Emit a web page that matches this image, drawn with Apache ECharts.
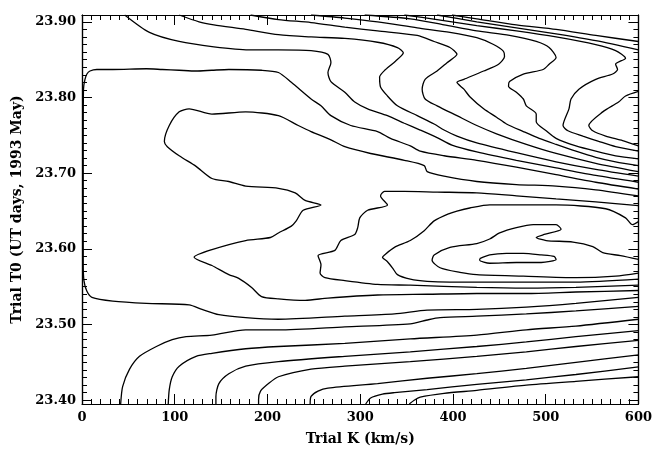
<!DOCTYPE html>
<html>
<head>
<meta charset="utf-8">
<script src="https://cdn.jsdelivr.net/npm/echarts@6/dist/echarts.min.js"></script>
<style>
html,body{margin:0;padding:0;background:#fff;}
#chart{width:655px;height:451px;}
</style>
</head>
<body>
<div id="chart"></div>
<script>
// Contour lines of the trial (K, T0) grid, each point is [K km/s, T0 days]
const r2 = [[398.9,23.909],[425.7,23.904],[468.4,23.896],[511.2,23.890],[554,23.882],[600,23.874]];
const r1 = [[382.9,23.909],[425.7,23.900],[468.4,23.892],[511.2,23.884],[554,23.875],[600,23.863]];
const s7 = [[600,23.808],[586.1,23.802],[578.6,23.794],[561.5,23.781],[546.5,23.763],[550.8,23.756],[564.7,23.749],[582.9,23.743],[600,23.736]];
const s6 = [[347.6,23.909],[382.9,23.903],[425.7,23.895],[468.4,23.888],[511.2,23.880],[554,23.870],[575.4,23.862],[586.1,23.852],[575.4,23.844],[577.5,23.837],[572.2,23.831],[554,23.824],[535.8,23.811],[527.3,23.798],[525.1,23.785],[518.7,23.763],[524,23.756],[540.1,23.749],[557.2,23.742],[575.4,23.735],[600,23.729]];
const s5 = [[304.8,23.909],[354,23.904],[390.4,23.896],[425.7,23.888],[461,23.882],[489.8,23.874],[503.7,23.866],[511.2,23.853],[503.7,23.844],[497.3,23.837],[475.9,23.831],[461,23.821],[459.9,23.815],[468.4,23.807],[475.9,23.798],[479.1,23.789],[489.8,23.778],[489.8,23.768],[500.5,23.756],[511.2,23.746],[532.6,23.736],[554,23.729],[575.4,23.723],[600,23.719]];
const s4 = [[247,23.909],[283.4,23.905],[318.7,23.900],[361.5,23.892],[396.8,23.886],[425.7,23.879],[443.8,23.870],[454.5,23.861],[455.6,23.854],[449.2,23.844],[433.1,23.835],[411.8,23.824],[404.3,23.820],[411.8,23.811],[418.2,23.801],[433.1,23.785],[447,23.774],[457.7,23.765],[475.9,23.755],[493,23.746],[511.2,23.738],[532.6,23.729],[554,23.721],[575.4,23.715],[600,23.710]];
const s3 = [[181.8,23.909],[211.8,23.903],[247,23.899],[283.4,23.893],[318.7,23.888],[361.5,23.882],[379.7,23.874],[396.8,23.866],[404.3,23.857],[393.6,23.846],[382.9,23.835],[370,23.824],[366.8,23.811],[370,23.798],[382.9,23.789],[404.3,23.776],[425.7,23.763],[447,23.752],[479.1,23.738],[511.2,23.726],[554,23.713],[600,23.702]];
const s2 = [[104.8,23.909],[126.2,23.900],[142.2,23.896],[176.5,23.890],[211.8,23.883],[247,23.880],[283.4,23.878],[318.7,23.873],[340.1,23.866],[346.5,23.859],[338,23.848],[327.3,23.837],[320.9,23.827],[321.9,23.814],[329.4,23.802],[340.1,23.789],[361.5,23.776],[379.7,23.765],[390.4,23.757],[404.3,23.749],[425.7,23.740],[468.4,23.727],[511.2,23.715],[554,23.705],[600,23.696]];
const s1 = [[46,23.909],[72.7,23.886],[104.8,23.874],[142.2,23.867],[179.7,23.863],[211.8,23.863],[247,23.862],[265.2,23.857],[268.4,23.846],[265.2,23.833],[268.4,23.821],[283.4,23.807],[294.1,23.794],[308,23.785],[329.4,23.776],[347.6,23.766],[364.7,23.757],[382.9,23.747],[398.9,23.737],[425.7,23.728],[468.4,23.717],[511.2,23.707],[554,23.697],[600,23.688]];
const outer = [[600,23.679],[554,23.688],[511.2,23.698],[468.4,23.708],[425.7,23.717],[390.4,23.723],[364.7,23.729],[354,23.736],[332.6,23.746],[318.7,23.755],[289.8,23.763],[268.4,23.776],[257.7,23.789],[247,23.798],[225.7,23.820],[211.8,23.833],[193.6,23.836],[158.3,23.837],[140.1,23.836],[123,23.835],[104.8,23.836],[86.6,23.837],[69.5,23.838],[33.2,23.837],[16,23.837],[8.6,23.835],[5.3,23.831],[3.2,23.824],[1.6,23.811],[1.3,23.733],[1.3,23.654],[1.3,23.582],[2.1,23.558],[5.3,23.544],[10.7,23.536],[33.2,23.531],[69.5,23.528],[115.5,23.526],[129.4,23.520],[147.6,23.513],[176.5,23.509],[211.8,23.507],[283.4,23.511],[336.9,23.514],[372.2,23.519],[425.7,23.520],[479.1,23.523],[532.6,23.528],[600,23.536]];
const inner1 = [[600,23.670],[554,23.678],[511.2,23.683],[468.4,23.685],[425.7,23.689],[390.4,23.696],[372.2,23.702],[369,23.710],[347.6,23.717],[311.2,23.726],[283.4,23.735],[268.4,23.744],[247,23.755],[233.2,23.763],[211.8,23.776],[176.5,23.781],[140.1,23.778],[115.5,23.785],[104.8,23.781],[94.1,23.763],[88.8,23.742],[92,23.735],[104.8,23.723],[123,23.709],[140.1,23.693],[158.3,23.689],[176.5,23.683],[211.8,23.680],[229.9,23.674],[240.6,23.664],[257.7,23.658],[238.5,23.651],[231,23.637],[225.7,23.630],[211.8,23.621],[203.2,23.615],[176.5,23.611],[140.1,23.599],[120.9,23.589],[140.1,23.578],[158.3,23.566],[169,23.561],[182.9,23.549],[193.6,23.537],[211.8,23.534],[240.6,23.532],[265.2,23.535],[318.7,23.539],[372.2,23.540],[425.7,23.541],[479.1,23.541],[532.6,23.543],[600,23.545]];
const inner2 = [[600,23.657],[554,23.662],[511.2,23.666],[468.4,23.670],[425.7,23.674],[382.9,23.675],[347.6,23.676],[326.2,23.676],[321.9,23.670],[329.4,23.658],[308,23.651],[299.5,23.641],[297.3,23.628],[294.1,23.619],[279.1,23.611],[272.7,23.598],[254.5,23.591],[257.7,23.579],[256.7,23.568],[262,23.562],[283.4,23.558],[318.7,23.553],[354,23.552],[425.7,23.549],[479.1,23.548],[532.6,23.549],[600,23.552]];
const inner3 = [[600,23.636],[593.6,23.632],[586.1,23.641],[564.7,23.653],[511.2,23.658],[439.6,23.658],[418.2,23.654],[404.3,23.650],[396.8,23.647],[379.7,23.637],[369,23.624],[354,23.611],[336.9,23.602],[326.2,23.592],[324,23.589],[329.4,23.583],[334.7,23.575],[340.1,23.566],[354,23.560],[372.2,23.557],[396.8,23.556],[425.7,23.556],[479.1,23.556],[532.6,23.556],[600,23.560]];
const inner4 = [[600,23.586],[580.7,23.591],[561.5,23.595],[550.8,23.603],[529.4,23.609],[500.5,23.611],[489.8,23.615],[498.4,23.619],[516.6,23.626],[511.2,23.632],[486.6,23.632],[468.4,23.628],[450.3,23.621],[439.6,23.613],[425.7,23.607],[396.8,23.602],[379.7,23.592],[377.5,23.585],[386.1,23.575],[407.5,23.569],[425.7,23.566],[475.9,23.564],[532.6,23.562],[575.4,23.564],[600,23.568]];
const core = [[428.9,23.587],[439.6,23.592],[457.7,23.594],[475.9,23.594],[495.2,23.592],[509,23.590],[511.2,23.586],[495.2,23.582],[468.4,23.582],[439.6,23.581],[428.9,23.585],[428.9,23.587]];
const low1 = [[41.7,23.395],[43.8,23.418],[51.3,23.441],[62,23.458],[80.2,23.471],[97.3,23.480],[112.3,23.484],[140.1,23.486],[176.5,23.493],[211.8,23.493],[283.4,23.497],[354,23.501],[372.2,23.506],[386.1,23.509],[425.7,23.511],[479.1,23.514],[532.6,23.518],[600,23.524]];
const low2 = [[93,23.395],[94.1,23.414],[97.3,23.431],[104.8,23.445],[123,23.458],[140.1,23.462],[176.5,23.468],[211.8,23.471],[283.4,23.475],[354,23.481],[425.7,23.486],[479.1,23.493],[532.6,23.498],[600,23.507]];
const low3 = [[144.4,23.395],[144.4,23.405],[147.6,23.422],[158.3,23.435],[176.5,23.445],[211.8,23.451],[283.4,23.458],[354,23.464],[425.7,23.471],[479.1,23.477],[532.6,23.484],[600,23.492]];
const low4 = [[190.4,23.395],[190.4,23.401],[192.5,23.412],[201.1,23.422],[211.8,23.431],[247,23.441],[283.4,23.445],[354,23.451],[425.7,23.458],[479.1,23.464],[532.6,23.471],[600,23.479]];
const low5 = [[246,23.395],[247,23.405],[254.5,23.412],[265.2,23.416],[318.7,23.422],[372.2,23.429],[425.7,23.435],[479.1,23.442],[532.6,23.450],[600,23.460]];
const low6 = [[305.9,23.395],[311.2,23.403],[324,23.408],[336.9,23.410],[372.2,23.414],[425.7,23.421],[479.1,23.427],[532.6,23.434],[600,23.444]];
const low7 = [[352.9,23.395],[358.2,23.400],[364.7,23.404],[390.4,23.409],[425.7,23.413],[479.1,23.420],[532.6,23.425],[600,23.431]];

const contourLines = [r2, r1, s7, s6, s5, s4, s3, s2, s1, outer, inner1, inner2, inner3, inner4, core,
                      low1, low2, low3, low4, low5, low6, low7];

// Axis ranges and tick labels
const kRange = [0, 600];
const t0Range = [23.395, 23.909];
const t0Labels = [23.40, 23.50, 23.60, 23.70, 23.80, 23.90];
const t0Minor = [];
for (let i = 0; i <= 50; i++) t0Minor.push(+(23.40 + i * 0.01).toFixed(2));

const font = { fontFamily: 'DejaVu Serif', fontWeight: 'bold', fontSize: 13, color: '#000' };
const nameFont = { fontFamily: 'DejaVu Serif', fontWeight: 'bold', fontSize: 14, color: '#000' };
const frame = { show: true, lineStyle: { color: '#000', width: 1.2 } };

function xAxisDef(pos, labels) {
  return {
    type: 'value', position: pos, min: kRange[0], max: kRange[1], interval: 100,
    axisLine: frame,
    axisTick: { show: true, inside: true, length: 10, lineStyle: { color: '#000', width: 1 } },
    minorTick: { show: true, splitNumber: 10, length: 5, lineStyle: { color: '#000', width: 1 } },
    axisLabel: labels ? Object.assign({ show: true, margin: 7 }, font) : { show: false },
    splitLine: { show: false },
    name: labels ? 'Trial K (km/s)' : '',
    nameLocation: 'middle', nameGap: 28, nameTextStyle: nameFont
  };
}
function yAxisDef(pos, ticks, len, labels) {
  return {
    type: 'value', position: pos, min: t0Range[0], max: t0Range[1],
    axisLine: frame,
    axisTick: { show: true, inside: true, length: len, customValues: ticks, lineStyle: { color: '#000', width: 1 } },
    axisLabel: labels ? Object.assign({ show: true, margin: 6, customValues: t0Labels,
      formatter: v => v.toFixed(2) }, font) : { show: false },
    splitLine: { show: false },
    name: labels ? 'Trial T0 (UT days, 1993 May)' : '',
    nameLocation: 'middle', nameGap: 53, nameRotate: 90, nameTextStyle: nameFont
  };
}

const chart = echarts.init(document.getElementById('chart'), null, { renderer: 'canvas' });
chart.setOption({
  animation: false,
  backgroundColor: '#fff',
  grid: { left: 82, right: 12, top: 15, bottom: 43, containLabel: false },
  xAxis: [xAxisDef('bottom', true), xAxisDef('top', false)],
  yAxis: [yAxisDef('left', t0Labels, 10, true), yAxisDef('left', t0Minor, 5, false),
          yAxisDef('right', t0Labels, 10, false), yAxisDef('right', t0Minor, 5, false)],
  series: contourLines.map(pts => ({
    type: 'line', xAxisIndex: 0, yAxisIndex: 0, data: pts,
    showSymbol: false, smooth: 0.25, clip: true,
    lineStyle: { color: '#000', width: 1.3 }
  }))
});
</script>
</body>
</html>
